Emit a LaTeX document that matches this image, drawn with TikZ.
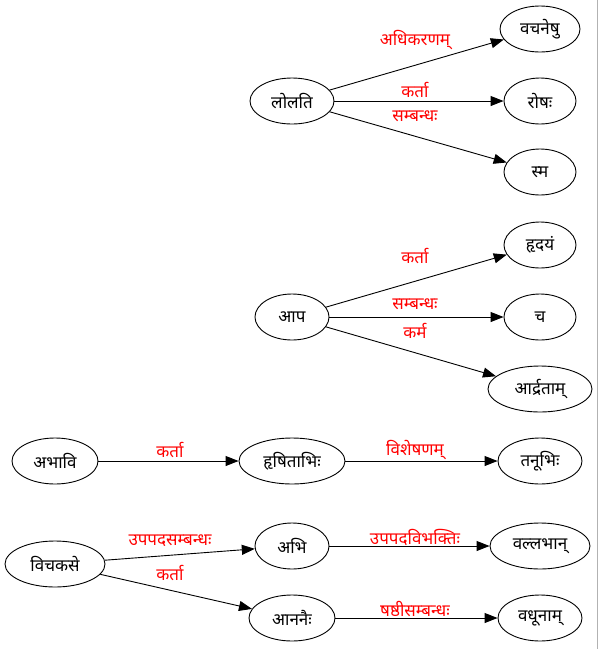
\documentclass[tikz,border=0pt]{standalone}
\usepackage{fontspec}
\usetikzlibrary{shapes.geometric,arrows.meta}
\newfontfamily\deva[Script=Devanagari]{Noto Sans}
\begin{document}
\begin{tikzpicture}[x=1pt,y=-1pt,
  word/.style={ellipse,draw,line width=0.9pt,minimum height=46pt,inner sep=0pt,font=\deva\fontsize{17}{19}\selectfont},
  rel/.style={text=red,inner sep=0pt,font=\deva\fontsize{17}{19}\selectfont},
  dep/.style={line width=0.9pt,-{Triangle[length=13pt,width=10pt]}}]
\useasboundingbox (0,0) rectangle (600,649);
\draw[gray!60,line width=1pt] (597.5,0) -- (597.5,649);

% first tree
\node[word,minimum width=84pt] (lolati) at (292,101) {लोलति};
\node[word,minimum width=80pt] (vacaneshu) at (540,29) {वचनेषु};
\node[word,minimum width=72pt] (roshah) at (540,101) {रोषः};
\node[word,minimum width=72pt] (sma) at (540,172) {स्म};
\draw[dep] (lolati) -- (vacaneshu);
\draw[dep] (lolati) -- (roshah);
\draw[dep] (lolati) -- (sma);
\node[rel] (l1) at (415,40) {अधिकरणम्};
\node[rel] (l2) at (415,90) {कर्ता};
\node[rel] (l3) at (415,116) {सम्बन्धः};

% second tree
\node[word,minimum width=74pt] (apa) at (292,317) {आप};
\node[word,minimum width=72pt] (hrdayam) at (540,245) {हृदयं};
\node[word,minimum width=72pt] (ca) at (540,317) {च};
\node[word,minimum width=104pt] (ardratam) at (540,389) {आर्द्रताम्};
\draw[dep] (apa) -- (hrdayam);
\draw[dep] (apa) -- (ca);
\draw[dep] (apa) -- (ardratam);
\node[rel] (l4) at (415,256) {कर्ता};
\node[rel] (l5) at (415,304) {सम्बन्धः};
\node[rel] (l6) at (415,331) {कर्म};

% third tree
\node[word,minimum width=86pt] (abhavi) at (55,461) {अभावि};
\node[word,minimum width=106pt] (hrshitabhih) at (292,461) {हृषिताभिः};
\node[word,minimum width=84pt] (tanubhih) at (540,461) {तनूभिः};
\draw[dep] (abhavi) -- (hrshitabhih);
\draw[dep] (hrshitabhih) -- (tanubhih);
\node[rel] (l7) at (170,450) {कर्ता};
\node[rel] (l8) at (415,450) {विशेषणम्};

% fourth tree
\node[word,minimum width=100pt] (vicakase) at (55,564) {विचकसे};
\node[word,minimum width=74pt] (abhi) at (292,546) {अभि};
\node[word,minimum width=100pt] (vallabhan) at (540,546) {वल्लभान्};
\node[word,minimum width=86pt] (ananaih) at (292,618) {आननैः};
\node[word,minimum width=84pt] (vadhunam) at (540,618) {वधूनाम्};
\draw[dep] (vicakase) -- (abhi);
\draw[dep] (vicakase) -- (ananaih);
\draw[dep] (abhi) -- (vallabhan);
\draw[dep] (ananaih) -- (vadhunam);
\node[rel] (l9) at (170,541) {उपपदसम्बन्धः};
\node[rel] (l10) at (170,573) {कर्ता};
\node[rel] (l11) at (415,537) {उपपदविभक्तिः};
\node[rel] (l12) at (415,609) {षष्ठीसम्बन्धः};
\end{tikzpicture}
\end{document}
